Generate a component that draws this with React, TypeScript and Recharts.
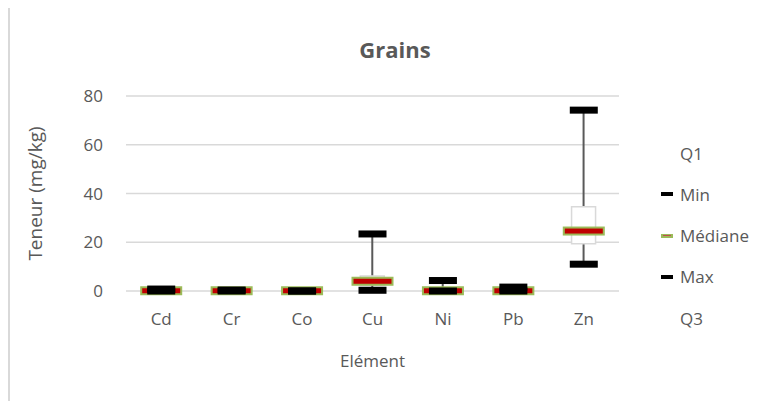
import React from 'react';
import { ComposedChart, Bar, Line, XAxis, YAxis, CartesianGrid } from 'recharts';

const categories = ['Cd', 'Cr', 'Co', 'Cu', 'Ni', 'Pb', 'Zn'];
const minValues = [0, 0, 0, 0.3, 0, 0, 11.0];
const q1Values = [0, 0, 0, 2.5, 0, 0, 19.4];
const medianValues = [0.1, 0.1, 0.1, 4.0, 0.1, 0.1, 24.6];
const q3Values = [0.3, 0.2, 0.1, 6.2, 0.8, 0.5, 34.6];
const maxValues = [0.8, 0.4, 0.0, 23.4, 4.3, 1.6, 74.2];
const yTicks = [0, 20, 40, 60, 80];
const legendItems = ['Q1', 'Min', 'Médiane', 'Max', 'Q3'];

const data = categories.map((name, i) => ({
  name,
  min: minValues[i],
  q1: q1Values[i],
  median: medianValues[i],
  q3: q3Values[i],
  max: maxValues[i],
}));

const FONT = '"Open Sans", "Liberation Sans", sans-serif';
const TEXT = '#595959';
const GRID = '#d9d9d9';

const MarkerDot = (props: any) => {
  const { cx, cy } = props;
  if (cx == null || cy == null) return null;
  return <rect x={cx - 14} y={cy - 3.5} width={28} height={7} fill="#000000" />;
};

const MedianDot = (props: any) => {
  const { cx, cy } = props;
  if (cx == null || cy == null) return null;
  return (
    <rect x={cx - 20} y={cy - 3.5} width={40} height={7} fill="#c00000" stroke="#9bbb59" strokeWidth={2} />
  );
};

export default function App() {
  return (
    <div
      style={{
        position: 'relative',
        width: 761,
        height: 395,
        borderLeft: `2px solid ${GRID}`,
        borderTop: `2px solid ${GRID}`,
        marginTop: -2,
        boxSizing: 'border-box',
        fontFamily: FONT,
        background: '#fff',
        overflow: 'hidden',
      }}
    >
      <div
        style={{
          position: 'absolute',
          left: 0,
          width: 770,
          top: 28,
          textAlign: 'center',
          fontWeight: 'bold',
          fontSize: 22,
          color: TEXT,
          lineHeight: '26px',
        }}
      >
        Grains
      </div>
      <ComposedChart
        width={759}
        height={393}
        data={data}
        margin={{ top: 88, right: 150, bottom: 30, left: 56 }}
        style={{ position: 'absolute', left: 0, top: 0 }}
      >
        <CartesianGrid vertical={false} stroke={GRID} strokeWidth={1.5} />
        <XAxis
          xAxisId="main"
          dataKey="name"
          axisLine={false}
          tickLine={false}
          tickSize={0}
          tickMargin={22}
          height={80}
          tick={{ fill: TEXT, fontSize: 17, fontFamily: FONT }}
          label={{ value: 'Elément', position: 'insideBottom', offset: 4, fill: TEXT, fontSize: 17, fontFamily: FONT }}
        />
        <XAxis xAxisId="wh" dataKey="name" hide height={0} />
        <XAxis xAxisId="box" dataKey="name" hide height={0} />
        <YAxis
          domain={[0, 80]}
          ticks={yTicks}
          axisLine={false}
          tickLine={false}
          tickSize={0}
          tickMargin={23}
          width={60}
          tick={{ fill: TEXT, fontSize: 17, fontFamily: FONT }}
          label={{
            value: 'Teneur (mg/kg)',
            angle: -90,
            position: 'insideLeft',
            offset: -31,
            style: { textAnchor: 'middle', fill: TEXT, fontSize: 19, fontFamily: FONT },
          }}
        />
        <Bar
          xAxisId="wh"
          dataKey={(d: any) => [d.min, d.max]}
          barSize={2}
          fill="#595959"
          isAnimationActive={false}
        />
        <Bar
          xAxisId="box"
          dataKey={(d: any) => [d.q1, d.q3]}
          barSize={24}
          fill="#ffffff"
          stroke={GRID}
          strokeWidth={1.5}
          isAnimationActive={false}
        />
        <Line
          xAxisId="main"
          dataKey="median"
          stroke="none"
          dot={<MedianDot />}
          activeDot={false}
          isAnimationActive={false}
        />
        <Line
          xAxisId="main"
          dataKey="min"
          stroke="none"
          dot={<MarkerDot />}
          activeDot={false}
          isAnimationActive={false}
        />
        <Line
          xAxisId="main"
          dataKey="max"
          stroke="none"
          dot={<MarkerDot />}
          activeDot={false}
          isAnimationActive={false}
        />
      </ComposedChart>
      <div style={{ position: 'absolute', left: 651, top: 0 }}>
        {legendItems.map((item, i) => (
          <div
            key={item}
            style={{
              position: 'absolute',
              top: 134 + i * 41.3,
              left: 0,
              height: 22,
              display: 'flex',
              alignItems: 'center',
              whiteSpace: 'nowrap',
              fontSize: 17,
              color: TEXT,
            }}
          >
            <span style={{ display: 'inline-block', width: 12, height: 4, marginRight: 7, position: 'relative' }}>
              {item === 'Min' || item === 'Max' ? (
                <span style={{ position: 'absolute', inset: 0, background: '#000' }} />
              ) : null}
              {item === 'Médiane' ? (
                <span style={{ position: 'absolute', inset: 0, background: '#9bbb59' }}>
                  <span style={{ position: 'absolute', left: 2, right: 2, top: 1.5, height: 1, background: '#c0504d' }} />
                </span>
              ) : null}
            </span>
            {item}
          </div>
        ))}
      </div>
    </div>
  );
}
